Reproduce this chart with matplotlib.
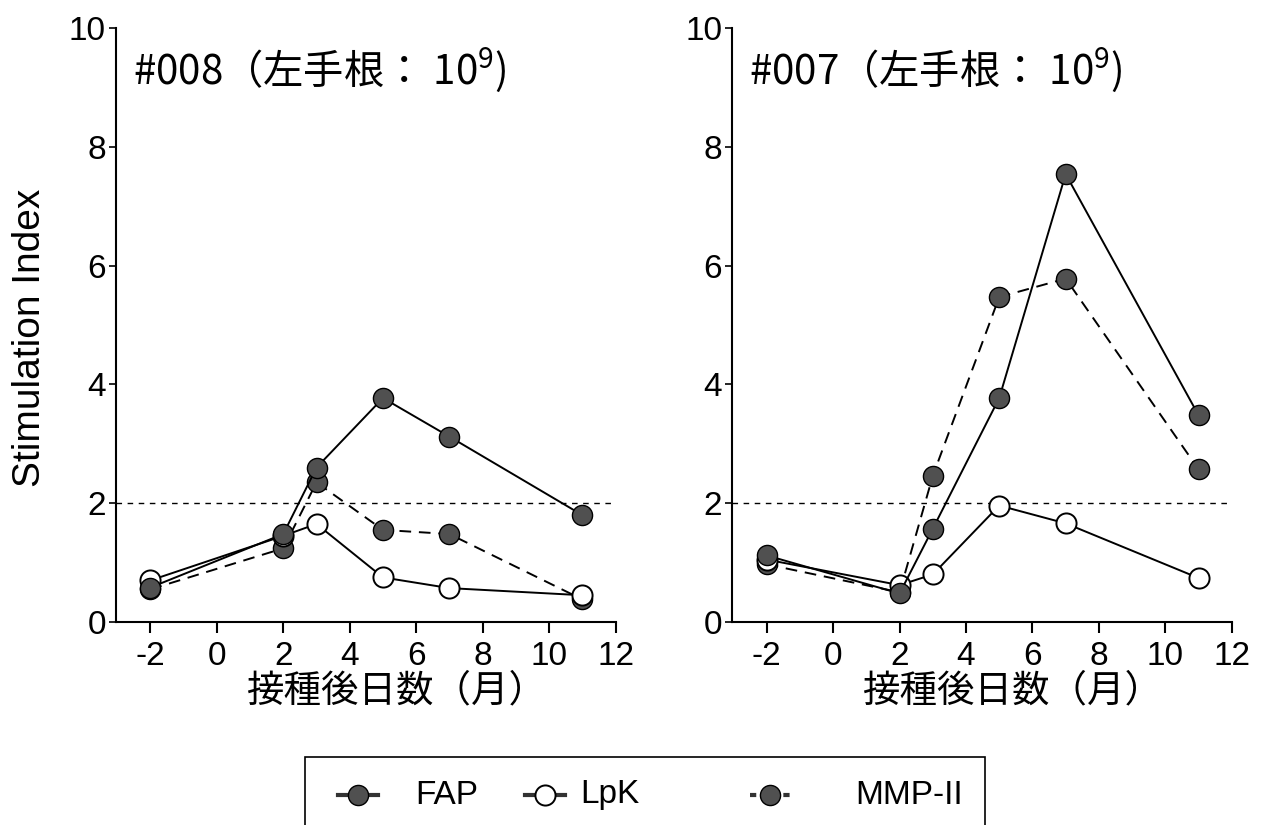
import numpy as np
import matplotlib
matplotlib.use("Agg")
import matplotlib.pyplot as plt
from matplotlib.lines import Line2D
from matplotlib.patches import Rectangle

plt.rcParams['font.family'] = ['Liberation Sans', 'Noto Sans CJK JP', 'DejaVu Sans']
plt.rcParams['axes.unicode_minus'] = False
plt.rcParams['mathtext.default'] = 'regular'

# months after inoculation
months = [-2, 2, 3, 5, 7, 11]

# #008
fap_008 = [0.58, 1.48, 2.60, 3.77, 3.12, 1.80]
lpk_008 = [0.70, 1.45, 1.65, 0.75, 0.57, 0.45]
mmp_008 = [0.55, 1.24, 2.35, 1.55, 1.48, 0.38]

# #007
fap_007 = [1.12, 0.48, 1.57, 3.77, 7.54, 3.48]
lpk_007 = [1.05, 0.62, 0.80, 1.96, 1.66, 0.74]
mmp_007 = [0.97, 0.50, 2.46, 5.47, 5.78, 2.57]

titles = ['#008（左手根： 10$^{9}$)', '#007（左手根： 10$^{9}$)']
series_names = ['FAP', 'LpK', 'MMP-II']
threshold = 2
x_ticks = [-2, 0, 2, 4, 6, 8, 10, 12]
y_ticks = [0, 2, 4, 6, 8, 10]

DARK = '#505050'
MS = 14.5

fig = plt.figure(figsize=(12.67, 8.25), dpi=100)
ax1 = fig.add_axes([0.0912, 0.2461, 0.3946, 0.72])
ax2 = fig.add_axes([0.5776, 0.2461, 0.3946, 0.72])


def draw_panel(ax, fap, lpk, mmp, title):
    ax.axhline(threshold, color='black', lw=1.0, dashes=(4, 4), zorder=1)
    ax.plot(months, lpk, '-', color='black', lw=1.4, marker='o', ms=MS,
            mfc='white', mec='black', mew=1.4, zorder=3)
    ax.plot(months, fap, '-', color='black', lw=1.4, marker='o', ms=MS,
            mfc=DARK, mec='black', mew=1.0, zorder=4)
    ax.plot(months, mmp, color='black', lw=1.4, dashes=(6, 4), marker='o', ms=MS,
            mfc=DARK, mec='black', mew=1.0, zorder=2)
    ax.set_xlim(-3.05, 12)
    ax.set_ylim(0, 10)
    ax.set_xticks(x_ticks)
    ax.set_yticks(y_ticks)
    for s in ['top', 'right']:
        ax.spines[s].set_visible(False)
    for s in ['left', 'bottom']:
        ax.spines[s].set_linewidth(1.5)
    ax.tick_params(axis='x', length=8, width=1.5, labelsize=24, pad=6)
    ax.tick_params(axis='y', length=5, width=1.2, labelsize=24, pad=2)
    ax.set_xlabel('接種後日数（月）', fontsize=27, family=['Noto Sans CJK JP'])
    ax.xaxis.set_label_coords(0.56, -0.083)
    ax.text(0.035, 0.929, title, transform=ax.transAxes, fontsize=29,
            va='center', ha='left', family=['Noto Sans CJK JP'])


draw_panel(ax1, fap_008, lpk_008, mmp_008, titles[0])
draw_panel(ax2, fap_007, lpk_007, mmp_007, titles[1])

ax1.set_ylabel('Stimulation Index', fontsize=28)
ax1.yaxis.set_label_coords(-0.135, 0.478)

# legend box (bottom cut off by the figure edge, as in the original)
W, H = 1267.0, 825.0
fig.patches.append(Rectangle((305 / W, 1 - 870 / H), 680 / W, 113 / H,
                             transform=fig.transFigure, fill=False,
                             edgecolor='black', lw=1.2))
handle_x = [338, 525, 750]
text_x = [415, 580, 855]
styles = [dict(ls='-', mfc=DARK, mew=1.0),
          dict(ls='-', mfc='white', mew=1.4),
          dict(ls=(0, (1.5, 2.5)), mfc=DARK, mew=1.0)]
ly = 1 - 795 / H
for name, hx, tx, st in zip(series_names, handle_x, text_x, styles):
    xs = [hx / W, (hx + 40) / W]
    fig.add_artist(Line2D(xs, [ly, ly], color='#333333', lw=3, ls=st['ls'],
                          transform=fig.transFigure))
    fig.add_artist(Line2D([(hx + 20) / W], [ly], marker='o', ms=MS,
                          mfc=st['mfc'], mec='black', mew=st['mew'],
                          transform=fig.transFigure))
    fig.text(tx / W, ly, name, fontsize=24, va='center', ha='left')

fig.savefig('out.png', dpi=100)
